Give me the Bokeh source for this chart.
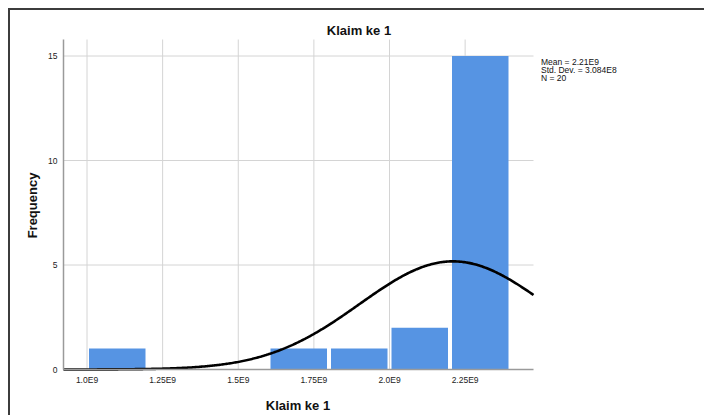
import numpy as np
from bokeh.plotting import figure
from bokeh.models import FixedTicker, Label, Range1d
from bokeh.embed import file_html
from bokeh.resources import INLINE

# ---- data ----
bin_left = [1.0e9, 1.2e9, 1.4e9, 1.6e9, 1.8e9, 2.0e9, 2.2e9]
bin_right = [1.2e9, 1.4e9, 1.6e9, 1.8e9, 2.0e9, 2.2e9, 2.4e9]
counts = [1, 0, 0, 1, 1, 2, 15]
mean = 2.21e9
std_dev = 3.084e8
n_obs = 20
x_ticks = [1.0e9, 1.25e9, 1.5e9, 1.75e9, 2.0e9, 2.25e9]
x_tick_labels = ["1.0E9", "1.25E9", "1.5E9", "1.75E9", "2.0E9", "2.25E9"]
y_ticks = [0, 5, 10, 15]
stats_lines = ["Mean = 2.21E9", "Std. Dev. = 3.084E8", "N = 20"]
title_text = "Klaim ke 1"
x_label = "Klaim ke 1"
y_label = "Frequency"

FONT = "Liberation Sans"

# ---- layout: page pixel anchors -> data coordinates ----
X_REF_PX, PX_PER_X = 86.5, 302.5 / 1e9     # page x of 1.0E9, pixels per unit
Y_REF_PX, PX_PER_Y = 369.0, 20.9           # page y of 0, pixels per count


def dx(px):
    return 1.0e9 + (px - X_REF_PX) / PX_PER_X


def dy(py):
    return (Y_REF_PX - py) / PX_PER_Y


x_start, x_end = dx(63), dx(533)
y_top = dy(39)
gap = 2 / PX_PER_X

p = figure(width=696, height=407, output_backend="svg", toolbar_location=None,
           x_range=Range1d(dx(10), dx(706)), y_range=Range1d(dy(417), dy(10)),
           min_border_left=0, min_border_right=0, min_border_top=0, min_border_bottom=0,
           styles={"margin-left": "8px", "margin-top": "8px",
                   "border-top": "2px solid #3c3c3c", "border-left": "2px solid #3c3c3c"})
p.title.visible = False
p.outline_line_color = None
p.xgrid.visible = False
p.ygrid.visible = False

# grid lines
p.segment(x0=x_ticks, y0=[0] * len(x_ticks), x1=x_ticks, y1=[y_top] * len(x_ticks),
          line_color="#d4d4d4", line_width=1)
p.segment(x0=[x_start] * 3, y0=y_ticks[1:], x1=[x_end] * 3, y1=y_ticks[1:],
          line_color="#d4d4d4", line_width=1)

# bars
p.quad(left=[l + gap for l in bin_left], right=[r - gap for r in bin_right],
       bottom=0, top=counts, fill_color="#5694e3", line_color=None)

# fitted normal curve
binw = bin_right[0] - bin_left[0]
xs = np.linspace(x_start, x_end, 400)
ys = n_obs * binw / (std_dev * np.sqrt(2 * np.pi)) * np.exp(-0.5 * ((xs - mean) / std_dev) ** 2)

# axes
xa = p.xaxis[0]
xa.fixed_location = 0
xa.bounds = (x_start, x_end)
xa.ticker = FixedTicker(ticks=x_ticks)
xa.major_label_overrides = {t: l for t, l in zip(x_ticks, x_tick_labels)}
xa.major_tick_out = 0
xa.major_tick_in = 0
xa.minor_tick_out = 0
xa.minor_tick_in = 0
xa.major_label_standoff = 5
xa.major_label_text_font = FONT
xa.major_label_text_font_size = "8.5px"
xa.major_label_text_color = "#222222"
xa.axis_line_color = "#9a9a9a"
xa.axis_line_width = 1.5

ya = p.yaxis[0]
ya.fixed_location = x_start
ya.bounds = (0, y_top)
ya.ticker = FixedTicker(ticks=y_ticks)
ya.major_tick_out = 0
ya.major_tick_in = 0
ya.minor_tick_out = 0
ya.minor_tick_in = 0
ya.major_label_standoff = 6
ya.major_label_text_font = FONT
ya.major_label_text_font_size = "8.5px"
ya.major_label_text_color = "#222222"
ya.axis_line_color = "#9a9a9a"
ya.axis_line_width = 1.5

p.line(xs, ys, line_color="black", line_width=2.6)


def text(px, py, s, size, bold=False, align="center", angle=0.0):
    p.add_layout(Label(x=dx(px), y=dy(py), text=s, text_font=FONT,
                       text_font_style="bold" if bold else "normal",
                       text_font_size=size, text_align=align, text_baseline="middle",
                       text_color="#111111", angle=angle))


text(358.5, 30, title_text, "13px", bold=True)
text(297.5, 404.5, x_label, "13px", bold=True)
text(31.5, 205, y_label, "13px", bold=True, angle=np.pi / 2)
for i, s in enumerate(stats_lines):
    text(540.5, 61 + 8 * i, s, "8.5px", align="left")

open("out.html", "w").write(file_html(p, INLINE))
